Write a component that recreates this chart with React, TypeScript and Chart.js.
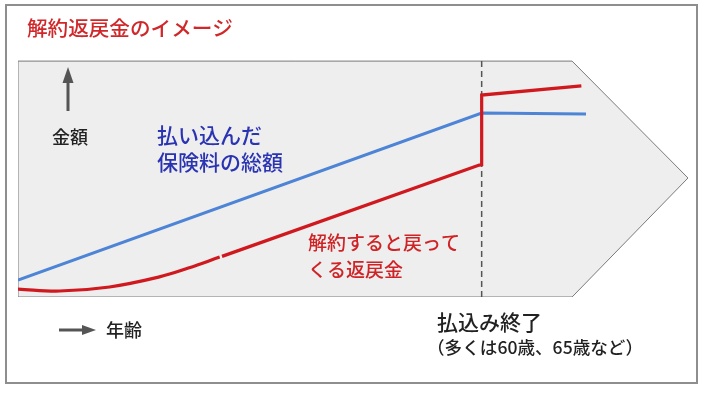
import React, { useEffect, useRef } from "react";
import { Chart, registerables } from "chart.js";

Chart.register(...registerables);

// Age axis (years) and amount axis (relative units, 0-100)
const pentagonAge = [20, 20, 67.8, 77.8, 67.8, 20];
const pentagonAmt = [0, 98.7, 98.7, 49.8, 0, 0];

const paidAge = [20, 60, 69];
const paidAmt = [7.1, 77.0, 76.6];

const refundCurveAge = [20, 23.6, 27.9, 32.2, 34.7, 37.4];
const refundCurveAmt = [3.3, 2.5, 4.2, 8.4, 12.1, 16.7];

const refundLineAge = [37.6, 59.8, 60, 60, 68.6];
const refundLineAmt = [17.0, 55.2, 55.4, 84.5, 88.3];

const payEndAge = [60, 60];
const payEndAmt = [0, 100];

const titleText = "解約返戻金のイメージ";
const yAxisLabel = "金額";
const xAxisLabel = "年齢";
const paidLabel = ["払い込んだ", "保険料の総額"];
const refundLabel = ["解約すると戻って", "くる返戻金"];
const payEndLabel = "払込み終了";
const payEndNote = "（多くは60歳、65歳など）";

const FONT = '"Noto Sans CJK JP", "Noto Sans", sans-serif';

const pts = (xs: number[], ys: number[]) => xs.map((x, i) => ({ x, y: ys[i] }));

const decorPlugin = {
  id: "decor",
  beforeDraw(chart: any) {
    const ctx = chart.ctx;
    ctx.save();
    ctx.fillStyle = "#ffffff";
    ctx.fillRect(0, 0, chart.width, chart.height);
    ctx.strokeStyle = "#8e8e8e";
    ctx.lineWidth = 2;
    ctx.strokeRect(6, 5, 691, 378);
    ctx.restore();
  },
  afterDraw(chart: any) {
    const ctx = chart.ctx;
    ctx.save();
    ctx.textBaseline = "middle";
    ctx.textAlign = "left";

    ctx.fillStyle = "#d0282a";
    ctx.font = `500 20.6px ${FONT}`;
    ctx.fillText(titleText, 27, 28);

    ctx.fillStyle = "#222222";
    ctx.font = `500 18px ${FONT}`;
    ctx.fillText(yAxisLabel, 52, 137);
    ctx.fillText(xAxisLabel, 106, 330);

    ctx.fillStyle = "#2a34b2";
    ctx.font = `500 21px ${FONT}`;
    ctx.fillText(paidLabel[0], 157, 135);
    ctx.fillText(paidLabel[1], 157, 162);

    ctx.fillStyle = "#cf2326";
    ctx.font = `500 19px ${FONT}`;
    ctx.fillText(refundLabel[0], 308, 243);
    ctx.fillText(refundLabel[1], 308, 270);

    ctx.fillStyle = "#222222";
    ctx.font = `500 21px ${FONT}`;
    ctx.fillText(payEndLabel, 437, 322);
    ctx.font = `500 17.6px ${FONT}`;
    ctx.fillText(payEndNote, 427, 347);

    // arrows
    ctx.strokeStyle = "#555555";
    ctx.fillStyle = "#555555";
    ctx.lineWidth = 3;
    ctx.beginPath();
    ctx.moveTo(68, 111);
    ctx.lineTo(68, 80);
    ctx.stroke();
    ctx.beginPath();
    ctx.moveTo(68, 67);
    ctx.lineTo(62.5, 83);
    ctx.lineTo(73.5, 83);
    ctx.closePath();
    ctx.fill();

    ctx.beginPath();
    ctx.moveTo(59, 330);
    ctx.lineTo(84, 330);
    ctx.stroke();
    ctx.beginPath();
    ctx.moveTo(96, 330);
    ctx.lineTo(82, 325);
    ctx.lineTo(82, 335);
    ctx.closePath();
    ctx.fill();
    ctx.restore();
  },
};

export default function App() {
  const ref = useRef<HTMLCanvasElement>(null);
  useEffect(() => {
    if (!ref.current) return;
    const chart = new Chart(ref.current, {
      type: "line",
      data: {
        datasets: [
          {
            data: pts(refundCurveAge, refundCurveAmt),
            borderColor: "#d0191f",
            borderWidth: 3.2,
            pointRadius: 0,
            tension: 0.4,
            fill: false,
            order: 0,
          },
          {
            data: pts(refundLineAge, refundLineAmt),
            borderColor: "#d0191f",
            borderWidth: 3.2,
            pointRadius: 0,
            tension: 0,
            fill: false,
            order: 0,
          },
          {
            data: pts(paidAge, paidAmt),
            borderColor: "#4d84d6",
            borderWidth: 3,
            pointRadius: 0,
            tension: 0,
            fill: false,
            order: 1,
          },
          {
            data: pts(payEndAge, payEndAmt),
            borderColor: "#555555",
            borderWidth: 1.5,
            borderDash: [6, 4],
            pointRadius: 0,
            fill: false,
            order: 5,
          },
          {
            data: pts(pentagonAge, pentagonAmt),
            borderColor: "#7a7a7a",
            backgroundColor: "#eeeeee",
            borderWidth: 1,
            pointRadius: 0,
            tension: 0,
            fill: "shape",
            order: 10,
          } as any,
        ],
      },
      options: {
        animation: false,
        responsive: false,
        devicePixelRatio: 1,
        layout: { padding: { left: 18, right: 22, top: 58, bottom: 96 } },
        plugins: { legend: { display: false }, tooltip: { enabled: false }, title: { display: false } },
        scales: {
          x: { type: "linear", min: 20, max: 77.8, display: false },
          y: { type: "linear", min: 0, max: 100, display: false },
        },
        events: [],
      },
      plugins: [decorPlugin],
    });
    return () => chart.destroy();
  }, []);
  return (
    <div style={{ position: "fixed", left: 0, top: 0, width: 710, height: 393, background: "#fff" }}>
      <canvas ref={ref} width={710} height={393} style={{ display: "block" }} />
    </div>
  );
}
